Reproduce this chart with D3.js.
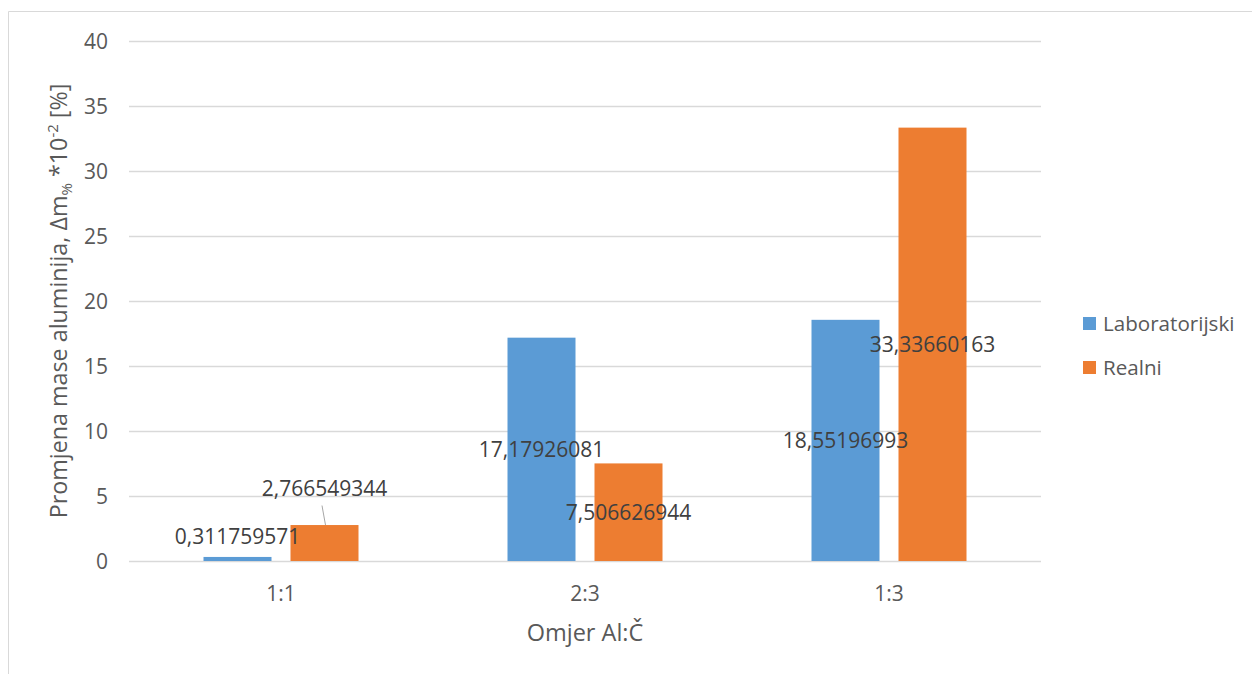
<!DOCTYPE html>
<html>
<head>
<meta charset="utf-8">
<script src="https://cdn.jsdelivr.net/npm/d3@7"></script>
<style>
  html, body { margin: 0; padding: 0; background: #fff; }
  svg { display: block; }
  text { font-family: "Open Sans", "Liberation Sans", sans-serif; }
</style>
</head>
<body>
<svg id="chart" width="1252" height="674"></svg>
<script>
// ---- data ----
const categories = ["1:1", "2:3", "1:3"];
const seriesNames = ["Laboratorijski", "Realni"];
const laboratorijski = [0.311759571, 17.17926081, 18.55196993];
const realni = [2.766549344, 7.506626944, 33.33660163];
const labLabels = ["0,311759571", "17,17926081", "18,55196993"];
const realLabels = ["2,766549344", "7,506626944", "33,33660163"];
const yTicks = [0, 5, 10, 15, 20, 25, 30, 35, 40];
const colors = ["#5b9bd5", "#ed7d31"];

const svg = d3.select("#chart");
const W = 1252, H = 674;

// frame (partially cropped in the reference)
svg.append("line").attr("x1", 8.5).attr("y1", 11.5).attr("x2", W).attr("y2", 11.5)
  .attr("stroke", "#d9d9d9").attr("stroke-width", 1);
svg.append("line").attr("x1", 8.5).attr("y1", 11.5).attr("x2", 8.5).attr("y2", H)
  .attr("stroke", "#d9d9d9").attr("stroke-width", 1);

const plot = { left: 129, right: 1041, top: 41, bottom: 561 };

const y = d3.scaleLinear().domain([0, 40]).range([plot.bottom, plot.top]);
const x0 = d3.scaleBand().domain(categories).range([plot.left, plot.right]).padding(0);
const groupW = 155;
const x1 = d3.scaleBand().domain(seriesNames).range([0, groupW]).paddingInner(19 / 87).paddingOuter(0);
const groupOffset = (x0.bandwidth() - groupW) / 2;

// gridlines
svg.append("g").selectAll("line").data(yTicks).join("line")
  .attr("x1", plot.left).attr("x2", plot.right)
  .attr("y1", d => Math.round(y(d)) + 0.5).attr("y2", d => Math.round(y(d)) + 0.5)
  .attr("stroke", "#d9d9d9").attr("stroke-width", 1.3);

// y axis labels
const yAxis = d3.axisLeft(y).tickValues(yTicks).tickSize(0).tickPadding(0);
const gy = svg.append("g").attr("transform", "translate(108,0)").call(yAxis);
gy.select(".domain").remove();
gy.selectAll("text").attr("fill", "#595959").style("font-size", "21px")
  .attr("font-family", "Open Sans").attr("dy", "0.36em");

// x axis labels
const xAxis = d3.axisBottom(x0).tickSize(0).tickPadding(0);
const gx = svg.append("g").attr("transform", `translate(0,${plot.bottom})`).call(xAxis);
gx.select(".domain").remove();
gx.selectAll("text").attr("fill", "#595959").style("font-size", "21px")
  .attr("font-family", "Open Sans").attr("y", 40).attr("dy", 0);

// bars
const seriesData = [laboratorijski, realni];
const labelsData = [labLabels, realLabels];
const bars = [];
seriesNames.forEach((s, si) => {
  categories.forEach((c, ci) => {
    bars.push({ s, si, c, ci, v: seriesData[si][ci], label: labelsData[si][ci] });
  });
});

svg.append("g").selectAll("rect").data(bars).join("rect")
  .attr("x", d => x0(d.c) + groupOffset + x1(d.s))
  .attr("width", x1.bandwidth())
  .attr("y", d => y(d.v))
  .attr("height", d => y(0) - y(d.v))
  .attr("fill", d => colors[d.si]);

// data labels: centered in bars, except the first category (manually moved in the original)
function labelPos(d) {
  const cx = x0(d.c) + groupOffset + x1(d.s) + x1.bandwidth() / 2;
  let cy = (y(d.v) + y(0)) / 2;
  if (d.ci === 0 && d.si === 0) cy = y(d.v) - 21;
  if (d.ci === 0 && d.si === 1) return { x: cx, y: y(d.v) - 37 };
  return { x: cx, y: cy };
}

// leader line for moved label
const moved = bars.find(d => d.ci === 0 && d.si === 1);
{
  const bx = x0(moved.c) + groupOffset + x1(moved.s) + x1.bandwidth() / 2;
  svg.append("line")
    .attr("x1", bx - 2.5).attr("y1", y(moved.v) - 19.5)
    .attr("x2", bx + 1).attr("y2", y(moved.v))
    .attr("stroke", "#a6a6a6").attr("stroke-width", 1);
}

svg.append("g").selectAll("text").data(bars).join("text")
  .attr("x", d => labelPos(d).x)
  .attr("y", d => labelPos(d).y)
  .attr("dy", "0.36em")
  .attr("text-anchor", "middle")
  .attr("fill", "#404040")
  .style("font-size", "21px")
  .text(d => d.label);

// y axis title
const yt = svg.append("text")
  .attr("transform", `translate(67,${(plot.top + plot.bottom) / 2}) rotate(-90)`)
  .attr("text-anchor", "middle")
  .attr("fill", "#595959")
  .style("font-size", "23.3px");
yt.append("tspan").text("Promjena mase aluminija, Δm");
yt.append("tspan").attr("dy", 5).style("font-size", "15px").text("%");
yt.append("tspan").attr("dy", -5).text(" *10");
yt.append("tspan").attr("dy", -9).style("font-size", "15px").text("-2");
yt.append("tspan").attr("dy", 9).text(" [%]");

// x axis title
svg.append("text")
  .attr("x", (plot.left + plot.right) / 2).attr("y", 641)
  .attr("text-anchor", "middle")
  .attr("fill", "#595959")
  .style("font-size", "23.5px")
  .text("Omjer Al:Č");

// legend
const lg = svg.append("g").attr("transform", "translate(1083,317)");
const li = lg.selectAll("g").data(seriesNames).join("g")
  .attr("transform", (d, i) => `translate(0,${i * 44})`);
li.append("rect").attr("width", 13).attr("height", 13).attr("fill", (d, i) => colors[i]);
li.append("text").attr("x", 20).attr("y", 6.5).attr("dy", "0.36em")
  .attr("fill", "#595959").style("font-size", "20.6px").text(d => d);
</script>
</body>
</html>
